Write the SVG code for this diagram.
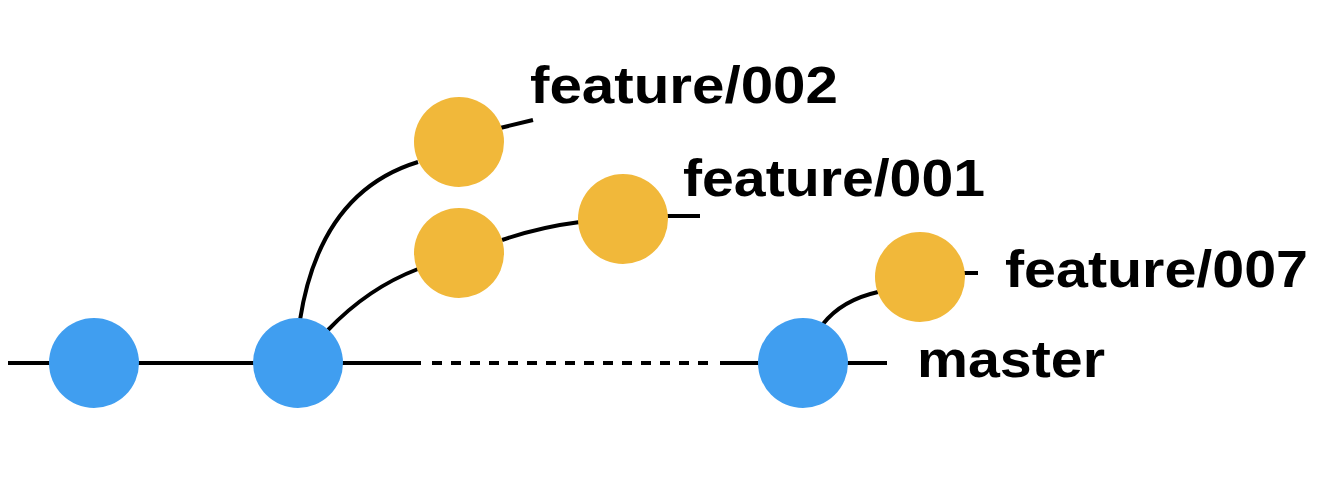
<svg xmlns="http://www.w3.org/2000/svg" width="1328" height="488" viewBox="0 0 1328 488">
<style>
.ln{fill:none;stroke:#000;stroke-width:4;stroke-linecap:butt}
.blue{fill:#409ef0}
.yel{fill:#f1b83a}
.lbl{font-family:"Liberation Sans",Arial,sans-serif;font-weight:bold;font-size:52px;fill:#000}
</style>
<rect width="1328" height="488" fill="#fff"/>
<g id="connectors">
<line class="ln" x1="8" y1="363" x2="421" y2="363"/>
<line class="ln" x1="432" y1="363" x2="710" y2="363" stroke-dasharray="10 9"/>
<line class="ln" x1="720" y1="363" x2="887" y2="363"/>
<path class="ln" d="M300,320 Q320,192 418,162"/>
<path class="ln" d="M328,330 Q368,288 418,269"/>
<path class="ln" d="M502,240 Q540,227 580,222"/>
<line class="ln" x1="666" y1="216" x2="700" y2="216"/>
<line class="ln" x1="500" y1="128" x2="533" y2="120"/>
<path class="ln" d="M823,324 Q842,300 878,292"/>
<line class="ln" x1="962" y1="273" x2="978" y2="273"/>
</g>
<g id="c1"><circle class="blue" cx="94" cy="363" r="45"/></g>
<g id="c2"><circle class="blue" cx="298" cy="363" r="45"/></g>
<g id="c3"><circle class="blue" cx="803" cy="363" r="45"/></g>
<g id="f002"><circle class="yel" cx="459" cy="142" r="45"/></g>
<g id="f001a"><circle class="yel" cx="459" cy="253" r="45"/></g>
<g id="f001b"><circle class="yel" cx="623" cy="219" r="45"/></g>
<g id="f007"><circle class="yel" cx="920" cy="277" r="45"/></g>
<g id="labels">
<text class="lbl" x="530" y="103" textLength="308" lengthAdjust="spacingAndGlyphs">feature/002</text>
<text class="lbl" x="683" y="196" textLength="302" lengthAdjust="spacingAndGlyphs">feature/001</text>
<text class="lbl" x="1005" y="287" textLength="303" lengthAdjust="spacingAndGlyphs">feature/007</text>
<text class="lbl" x="917" y="377" textLength="188" lengthAdjust="spacingAndGlyphs">master</text>
</g>
</svg>
